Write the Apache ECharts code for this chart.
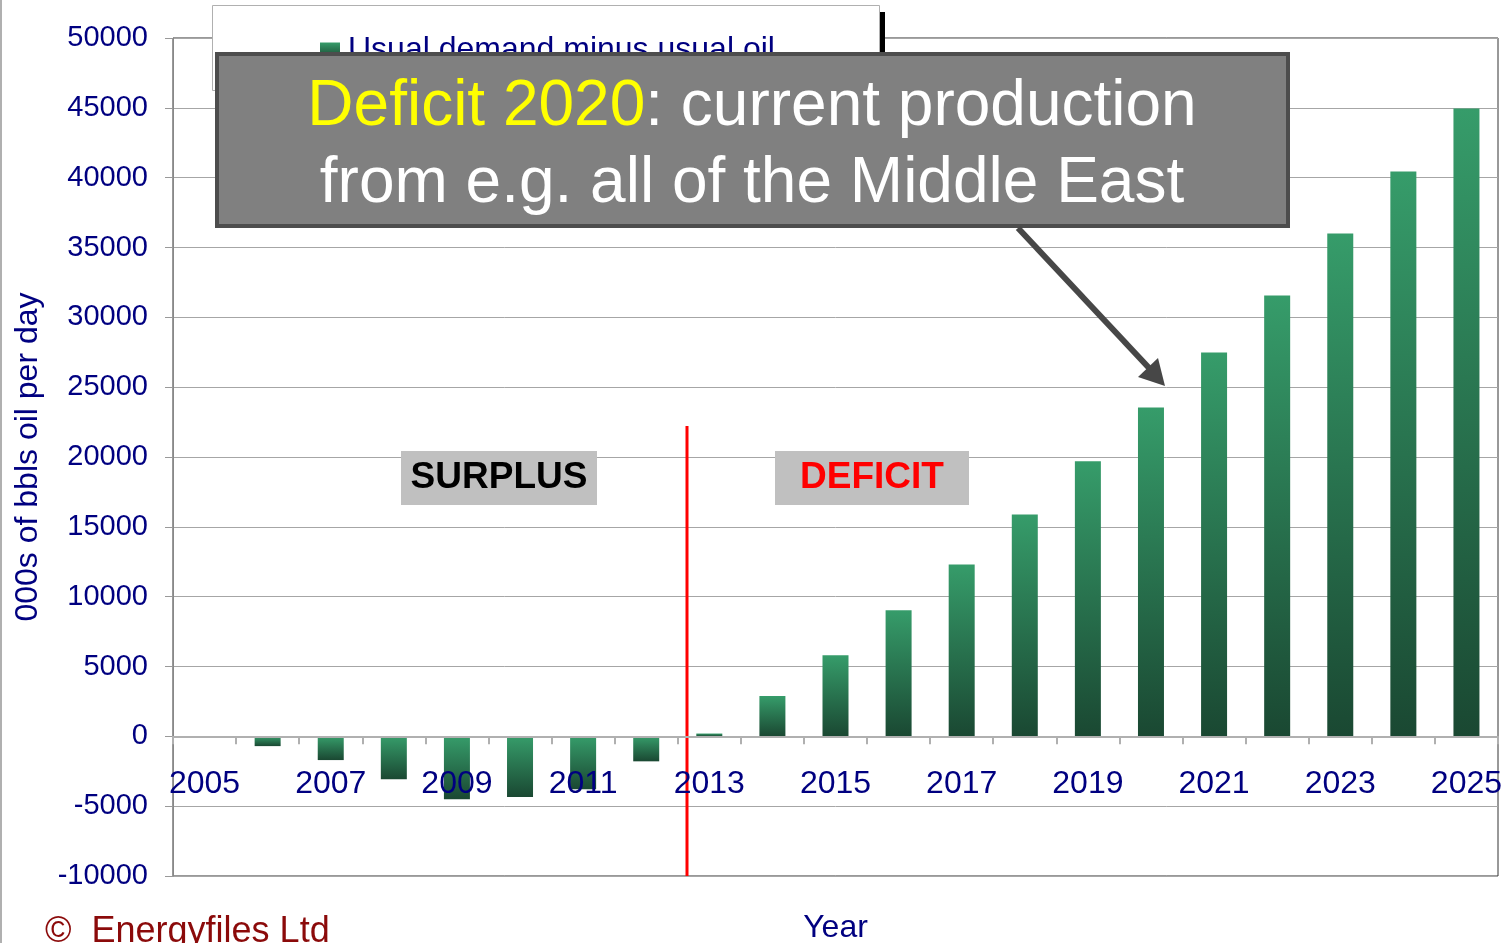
<!DOCTYPE html>
<html>
<head>
<meta charset="utf-8">
<script src="https://cdn.jsdelivr.net/npm/echarts@6/dist/echarts.min.js"></script>
<style>
  html, body { margin: 0; padding: 0; background: #fff; }
  #main { width: 1506px; height: 943px; }
</style>
</head>
<body>
<div id="main"></div>
<script>
// years on the category axis
var years = ['2005', '2006', '2007', '2008', '2009', '2010', '2011', '2012', '2013', '2014', '2015',
    '2016', '2017', '2018', '2019', '2020', '2021', '2022', '2023', '2024', '2025'];

// demand minus supply, 000s bbl/day
var gap = [0, -700, -1700, -3080, -4500, -4340, -3790, -1790, 200, 2880, 5800,
    9020, 12310, 15890, 19690, 23550, 27490, 31570, 36010, 40440, 44950];

var seriesName = 'Usual demand minus usual oil';
var yMin = -10000, yMax = 50000, yStep = 5000;

var navy = '#000080';
var font = 'Liberation Sans, Arial, sans-serif';

var barFill = new echarts.graphic.LinearGradient(0, 0, 0, 1, [
    { offset: 0, color: '#369c6a' },
    { offset: 1, color: '#1a4832' }
]);

var myChart = echarts.init(document.getElementById('main'));

option = {
    backgroundColor: '#fff',
    animation: false,
    textStyle: { fontFamily: font },
    grid: {
        left: 173, right: 8, top: 38, bottom: 67,
        outerBoundsMode: 'none',
        containLabel: false,
        show: true,
        borderColor: '#333',
        borderWidth: 1
    },
    legend: {
        left: 315, top: 28,
        z: 4,
        itemWidth: 20, itemHeight: 15, itemGap: 10,
        icon: 'rect',
        data: [seriesName],
        textStyle: { color: navy, fontSize: 32, fontFamily: font, lineHeight: 34, padding: [0, 0, 0, 3] }
    },
    xAxis: {
        type: 'category',
        data: years,
        z: 5,
        name: 'Year',
        nameLocation: 'middle',
        nameGap: 36,
        nameTextStyle: { color: navy, fontSize: 32, fontFamily: font },
        axisLine: { onZero: true, lineStyle: { color: '#b0b0b0', width: 2 } },
        axisTick: { show: true, interval: 0, length: 8, lineStyle: { color: '#b0b0b0', width: 2 } },
        axisLabel: { interval: 1, color: navy, fontSize: 32, margin: -108, fontFamily: font }
    },
    yAxis: {
        type: 'value',
        min: yMin, max: yMax, interval: yStep,
        name: '000s of bbls oil per day',
        nameLocation: 'middle',
        nameGap: 129,
        nameTextStyle: { color: navy, fontSize: 32, fontFamily: font },
        axisLine: { show: true, lineStyle: { color: '#888' } },
        axisTick: { show: true, length: 8, lineStyle: { color: '#999' } },
        axisLabel: {
            color: navy, fontSize: 29, margin: 25, fontFamily: font,
            formatter: function (v) { return String(v); }
        },
        splitLine: { lineStyle: { color: '#a6a6a6', width: 1 } }
    },
    series: [{
        name: seriesName,
        type: 'bar',
        data: gap,
        barWidth: 26,
        itemStyle: { color: barFill }
    }],
    graphic: [
        // left page border
        { type: 'line', z: 1, shape: { x1: 1, y1: 0, x2: 1, y2: 943 }, style: { stroke: '#b0b0b0', lineWidth: 2 } },
        // legend frame + shadow
        { type: 'rect', z: 2, shape: { x: 880, y: 12, width: 5, height: 50 }, style: { fill: '#000' } },
        { type: 'rect', z: 3, shape: { x: 212.5, y: 5.5, width: 667, height: 85 }, style: { fill: '#fff', stroke: '#b0b0b0', lineWidth: 1 } },
        // surplus / deficit split
        { type: 'line', z: 5, shape: { x1: 687, y1: 426, x2: 687, y2: 876 }, style: { stroke: '#ff0000', lineWidth: 3 } },
        { type: 'rect', z: 5, shape: { x: 401, y: 451, width: 196, height: 54 }, style: { fill: '#c0c0c0' } },
        { type: 'text', z: 6, style: { x: 499, y: 478, text: 'SURPLUS', fill: '#000', font: 'bold 37px ' + font, align: 'center', verticalAlign: 'middle' } },
        { type: 'rect', z: 5, shape: { x: 775, y: 451, width: 194, height: 54 }, style: { fill: '#c0c0c0' } },
        { type: 'text', z: 6, style: { x: 872, y: 478, text: 'DEFICIT', fill: '#ff0000', font: 'bold 37px ' + font, align: 'center', verticalAlign: 'middle' } },
        // callout box
        { type: 'rect', z: 20, shape: { x: 217, y: 54, width: 1071, height: 172 }, style: { fill: '#808080', stroke: '#4d4d4d', lineWidth: 4 } },
        {
            type: 'text', z: 21,
            style: {
                x: 752, y: 146,
                align: 'center', verticalAlign: 'middle',
                text: '{y|Deficit 2020}{w|: current production}\n{w|from e.g. all of the Middle East}',
                rich: {
                    y: { fill: '#ffff00', fontSize: 64, fontFamily: font, lineHeight: 77 },
                    w: { fill: '#ffffff', fontSize: 64, fontFamily: font, lineHeight: 77 }
                }
            }
        },
        // arrow to the 2020 bar
        { type: 'line', z: 20, shape: { x1: 1018, y1: 228, x2: 1150, y2: 369 }, style: { stroke: '#474747', lineWidth: 6 } },
        { type: 'polygon', z: 20, shape: { points: [[1165, 386], [1138, 377], [1158, 358]] }, style: { fill: '#474747' } },
        // copyright
        { type: 'text', z: 6, style: { x: 45, y: 914, text: '\u00a9  Energyfiles Ltd', fill: '#8b0a0a', font: '36px ' + font } }
    ]
};

myChart.setOption(option);
</script>
</body>
</html>
